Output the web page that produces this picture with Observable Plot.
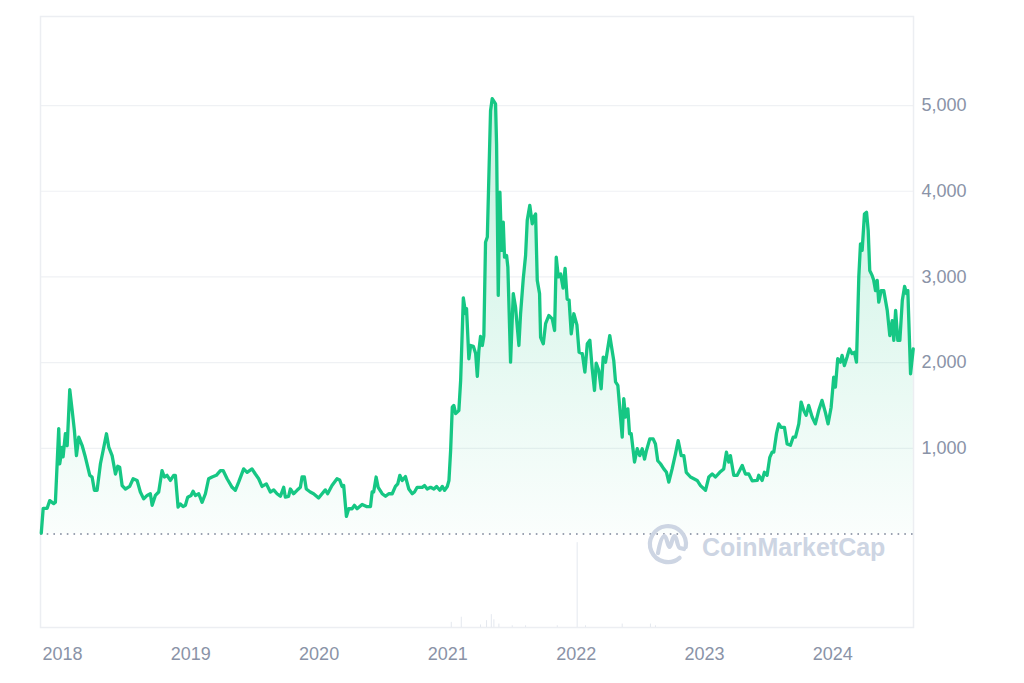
<!DOCTYPE html>
<html><head><meta charset="utf-8">
<script src="https://cdn.jsdelivr.net/npm/d3@7"></script>
<script src="https://cdn.jsdelivr.net/npm/@observablehq/plot@0.6"></script>
<style>html,body{margin:0;padding:0;background:#fff;} #chart{width:1024px;height:683px;}</style>
</head><body><div id="chart"></div>
<script>
// [decimal year, price in USD]
const priceSeries = [[2017.835,10],[2017.850,300],[2017.881,300],[2017.901,390],[2017.932,355],[2017.945,370],[2017.971,1230],[2017.979,820],[2017.998,1010],[2018.005,900],[2018.023,1170],[2018.037,1030],[2018.057,1685],[2018.076,1440],[2018.093,1210],[2018.109,915],[2018.127,1130],[2018.153,1035],[2018.179,895],[2018.213,685],[2018.231,665],[2018.249,510],[2018.270,510],[2018.296,820],[2018.317,975],[2018.343,1170],[2018.361,1015],[2018.387,915],[2018.413,700],[2018.431,790],[2018.446,780],[2018.465,565],[2018.491,525],[2018.524,555],[2018.551,645],[2018.582,625],[2018.607,490],[2018.633,410],[2018.660,450],[2018.685,470],[2018.699,335],[2018.724,450],[2018.750,490],[2018.776,740],[2018.794,665],[2018.815,685],[2018.841,625],[2018.867,685],[2018.880,685],[2018.901,315],[2018.919,350],[2018.940,320],[2018.958,335],[2018.976,430],[2019.002,450],[2019.018,500],[2019.036,450],[2019.062,470],[2019.088,370],[2019.114,470],[2019.139,645],[2019.166,665],[2019.199,685],[2019.231,740],[2019.252,740],[2019.283,645],[2019.322,545],[2019.347,510],[2019.373,605],[2019.412,760],[2019.439,720],[2019.477,760],[2019.503,700],[2019.529,645],[2019.555,555],[2019.589,585],[2019.620,490],[2019.646,515],[2019.672,470],[2019.698,440],[2019.724,545],[2019.737,430],[2019.762,440],[2019.776,525],[2019.801,470],[2019.828,510],[2019.854,545],[2019.867,665],[2019.885,665],[2019.900,525],[2019.931,490],[2019.957,470],[2019.996,420],[2020.023,470],[2020.048,515],[2020.066,470],[2020.100,565],[2020.139,645],[2020.160,630],[2020.178,555],[2020.191,565],[2020.212,205],[2020.230,295],[2020.256,295],[2020.274,335],[2020.295,295],[2020.334,345],[2020.368,320],[2020.399,320],[2020.412,490],[2020.424,490],[2020.443,665],[2020.459,545],[2020.490,470],[2020.516,440],[2020.541,470],[2020.568,470],[2020.593,555],[2020.611,585],[2020.627,685],[2020.646,625],[2020.671,670],[2020.697,525],[2020.724,470],[2020.741,490],[2020.762,545],[2020.801,545],[2020.819,565],[2020.840,525],[2020.866,545],[2020.892,525],[2020.913,555],[2020.938,510],[2020.957,555],[2020.975,510],[2020.996,555],[2021.009,625],[2021.022,975],[2021.035,1480],[2021.047,1500],[2021.061,1405],[2021.086,1440],[2021.100,1790],[2021.121,2755],[2021.139,2570],[2021.146,2630],[2021.164,2045],[2021.178,2200],[2021.199,2190],[2021.217,2105],[2021.230,1840],[2021.242,2140],[2021.255,2305],[2021.269,2200],[2021.281,2315],[2021.294,3405],[2021.308,3465],[2021.333,4940],[2021.346,5080],[2021.372,5020],[2021.380,4550],[2021.393,2785],[2021.406,3990],[2021.419,3310],[2021.432,3640],[2021.442,3230],[2021.458,3250],[2021.468,3115],[2021.489,2005],[2021.510,2805],[2021.528,2645],[2021.554,2200],[2021.567,2570],[2021.588,2980],[2021.606,3250],[2021.619,3660],[2021.639,3835],[2021.658,3620],[2021.671,3700],[2021.684,3735],[2021.697,2960],[2021.715,2805],[2021.723,2295],[2021.744,2220],[2021.762,2455],[2021.787,2550],[2021.814,2510],[2021.832,2375],[2021.845,3230],[2021.861,3000],[2021.879,3035],[2021.898,2870],[2021.914,3100],[2021.930,2740],[2021.945,2730],[2021.962,2335],[2021.982,2570],[2022.006,2440],[2022.023,2120],[2022.048,2105],[2022.068,1890],[2022.087,2220],[2022.107,2260],[2022.125,1930],[2022.143,1675],[2022.156,1995],[2022.176,1910],[2022.195,1695],[2022.211,2065],[2022.229,2005],[2022.262,2315],[2022.293,2025],[2022.307,1775],[2022.325,1735],[2022.359,1130],[2022.371,1580],[2022.385,1365],[2022.403,1460],[2022.416,1170],[2022.429,1170],[2022.455,840],[2022.476,995],[2022.496,915],[2022.515,995],[2022.533,875],[2022.548,975],[2022.574,1110],[2022.600,1110],[2022.618,1050],[2022.636,855],[2022.657,820],[2022.683,760],[2022.704,720],[2022.722,605],[2022.748,760],[2022.774,935],[2022.795,1090],[2022.819,915],[2022.839,915],[2022.858,720],[2022.891,665],[2022.917,645],[2022.943,625],[2022.969,565],[2023.008,510],[2023.034,665],[2023.060,700],[2023.086,665],[2023.119,720],[2023.150,760],[2023.171,955],[2023.189,840],[2023.202,915],[2023.228,685],[2023.255,685],[2023.294,800],[2023.319,700],[2023.345,700],[2023.372,620],[2023.411,625],[2023.423,685],[2023.449,625],[2023.467,720],[2023.488,685],[2023.509,895],[2023.527,955],[2023.540,955],[2023.561,1170],[2023.579,1285],[2023.597,1245],[2023.623,1245],[2023.644,1050],[2023.670,1035],[2023.691,1130],[2023.709,1130],[2023.735,1285],[2023.753,1540],[2023.774,1440],[2023.792,1385],[2023.812,1500],[2023.839,1365],[2023.864,1285],[2023.890,1440],[2023.916,1560],[2023.942,1420],[2023.963,1285],[2023.987,1480],[2024.007,1830],[2024.020,1715],[2024.038,2045],[2024.059,2005],[2024.072,2085],[2024.090,1965],[2024.111,2065],[2024.129,2160],[2024.150,2105],[2024.168,2120],[2024.184,2005],[2024.202,3000],[2024.215,3385],[2024.228,3310],[2024.246,3735],[2024.262,3755],[2024.275,3540],[2024.287,3075],[2024.306,3015],[2024.318,2960],[2024.332,2840],[2024.345,2960],[2024.357,2705],[2024.376,2840],[2024.396,2840],[2024.423,2610],[2024.443,2315],[2024.462,2490],[2024.474,2260],[2024.488,2610],[2024.505,2260],[2024.521,2260],[2024.540,2725],[2024.558,2890],[2024.573,2805],[2024.583,2840],[2024.604,1870],[2024.625,2160]];

// [decimal year, relative volume]
const volumeSeries = [[2021.027,6],[2021.105,12],[2021.255,3],[2021.302,8],[2021.339,15],[2021.359,9],[2021.398,4],[2021.502,2],[2021.606,2],[2021.853,2],[2022.008,99],[2022.073,2],[2022.359,4],[2022.579,4],[2022.618,2]];

const yearTicks = [2018, 2019, 2020, 2021, 2022, 2023, 2024];
const priceTicks = [1000, 2000, 3000, 4000, 5000];
const xDomainYears = [2017.829, 2024.627];
const yDomain = [-1091, 6039];

function yearToDate(t) {
  const y = Math.floor(t);
  const s = Date.UTC(y, 0, 1), e = Date.UTC(y + 1, 0, 1);
  return new Date(s + (t - y) * (e - s));
}

const prices = priceSeries.map(([t, v]) => ({date: yearToDate(t), price: v}));
const volumes = volumeSeries.map(([t, v]) => ({date: yearToDate(t), vol: v}));
const volMax = 100;
const volBand = 1000;

const plot = Plot.plot({
  width: 1024, height: 683,
  marginLeft: 40, marginRight: 111, marginTop: 16, marginBottom: 56,
  style: {fontFamily: '"Liberation Sans", Arial, sans-serif', fontSize: "18px", color: "#8a93a7", background: "#fff"},
  x: {type: "utc", domain: xDomainYears.map(yearToDate), ticks: yearTicks.map(y => new Date(Date.UTC(y, 0, 1))),
      tickFormat: d3.utcFormat("%Y"), tickSize: 0, tickPadding: 20, label: null},
  y: {domain: yDomain, axis: "right", ticks: priceTicks, tickFormat: d3.format(","), tickSize: 0, tickPadding: 8, label: null},
  marks: [
    Plot.ruleY(priceTicks, {stroke: "#eff1f4", strokeWidth: 1.2}),
    Plot.frame({stroke: "#eceef2", strokeWidth: 1.5}),
    Plot.ruleX(volumes, {x: "date", y1: yDomain[0], y2: d => yDomain[0] + d.vol / volMax * volBand, stroke: "#e4e8ef", strokeWidth: 1}),
    Plot.areaY(prices, {x: "date", y1: 0, y2: "price", fill: "url(#cmcFill)"}),
    Plot.ruleY([0], {stroke: "#9aa2b1", strokeWidth: 1.8, strokeDasharray: "1.6,5.1"}),
    Plot.lineY(prices, {x: "date", y: "price", stroke: "#16c784", strokeWidth: 3.3, strokeLinejoin: "round"})
  ]
});

const svgEl = plot.tagName.toLowerCase() === "svg" ? plot : plot.querySelector("svg");
const svg = d3.select(svgEl);
const ys = plot.scale("y"), xs = plot.scale("x");
const grad = svg.insert("defs", ":first-child").append("linearGradient")
  .attr("id", "cmcFill").attr("gradientUnits", "userSpaceOnUse")
  .attr("x1", 0).attr("x2", 0).attr("y1", ys.apply(5000)).attr("y2", ys.apply(0));
grad.append("stop").attr("offset", "0%").attr("stop-color", "#16c784").attr("stop-opacity", 0.24);
grad.append("stop").attr("offset", "100%").attr("stop-color", "#16c784").attr("stop-opacity", 0.02);

// watermark
const xRight = xs.range[1], y0 = ys.apply(0);
const wm = svg.append("g");
const logo = wm.append("g").attr("transform", `translate(${xRight - 245},${y0 + 10.5})`)
  .attr("fill", "none").attr("stroke", "#cdd5e3").attr("stroke-width", 4.2)
  .attr("stroke-linecap", "round").attr("stroke-linejoin", "round");
logo.append("path").attr("d", "M 11.6 13.8 A 18 18 0 1 1 17.7 3.1");
logo.append("path").attr("d", "M -10 9 C -8 -2, -6 -8, -3.5 -8 C -1 -8, -0.5 3, 1.5 3 C 3.5 3, 4 -8, 6.5 -8 C 9 -8, 9 3, 12 4 L 16 5");
wm.append("text").attr("x", xRight - 211).attr("y", y0 + 22)
  .attr("text-anchor", "start")
  .attr("fill", "#cdd5e3").attr("font-size", 25).attr("font-weight", 700)
  .text("CoinMarketCap");

document.getElementById("chart").appendChild(plot);
</script>
</body></html>
